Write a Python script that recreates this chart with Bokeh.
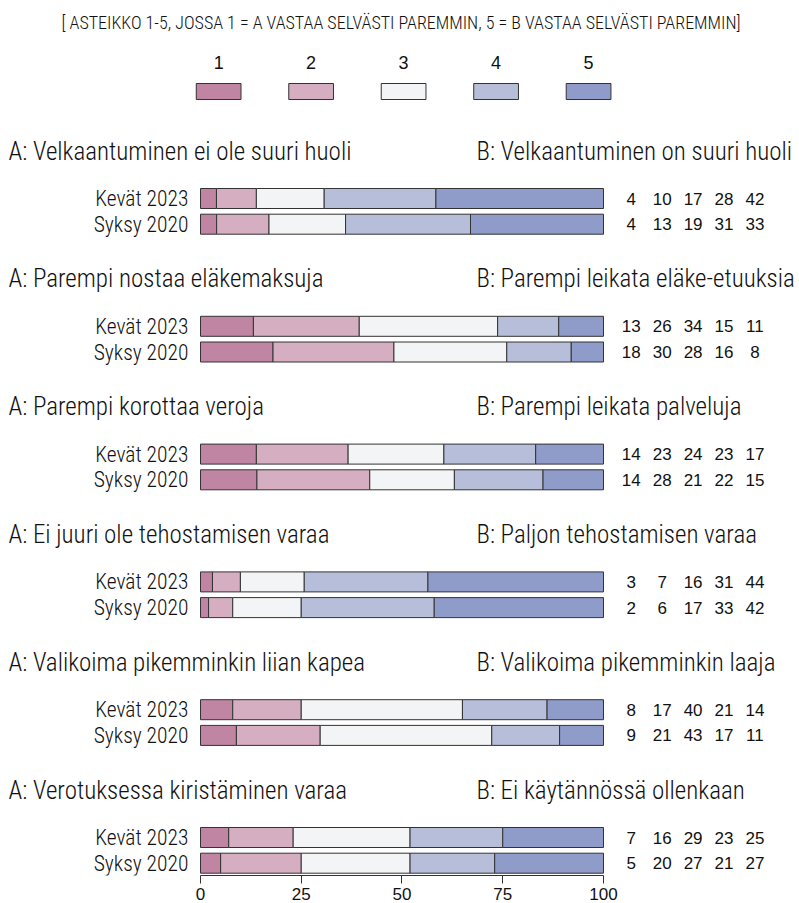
from bokeh.plotting import figure
from bokeh.models import Range1d, FixedTicker, ColumnDataSource
from bokeh.core.properties import value
from bokeh.embed import file_html
from bokeh.resources import INLINE

# ---------------- data ----------------
title_text = "[ ASTEIKKO 1-5, JOSSA 1 = A VASTAA SELVÄSTI PAREMMIN, 5 = B VASTAA SELVÄSTI PAREMMIN]"
scale_labels = ["1", "2", "3", "4", "5"]
colors = ["#BF85A2", "#D5AEC2", "#F3F4F6", "#B7BED9", "#8F9BC9"]
a_labels = [
    "A: Velkaantuminen ei ole suuri huoli",
    "A: Parempi nostaa eläkemaksuja",
    "A: Parempi korottaa veroja",
    "A: Ei juuri ole tehostamisen varaa",
    "A: Valikoima pikemminkin liian kapea",
    "A: Verotuksessa kiristäminen varaa",
]
b_labels = [
    "B: Velkaantuminen on suuri huoli",
    "B: Parempi leikata eläke-etuuksia",
    "B: Parempi leikata palveluja",
    "B: Paljon tehostamisen varaa",
    "B: Valikoima pikemminkin laaja",
    "B: Ei käytännössä ollenkaan",
]
periods = ["Kevät 2023", "Syksy 2020"]
kevat_2023 = [
    [4, 10, 17, 28, 42],
    [13, 26, 34, 15, 11],
    [14, 23, 24, 23, 17],
    [3, 7, 16, 31, 44],
    [8, 17, 40, 21, 14],
    [7, 16, 29, 23, 25],
]
syksy_2020 = [
    [4, 13, 19, 31, 33],
    [18, 30, 28, 16, 8],
    [14, 28, 21, 22, 15],
    [2, 6, 17, 33, 42],
    [9, 21, 43, 17, 11],
    [5, 20, 27, 21, 27],
]
x_ticks = [0, 25, 50, 75, 100]

# ---------------- layout ----------------
COND = "Roboto Condensed Light, Roboto Condensed"
ARIAL = "Liberation Sans"
TXT = "#111111"
X0, X1 = -49.63, 148.64
Y_TOP, Y_BOT = 0.0, 875.0

p = figure(width=799, height=903, x_range=Range1d(X0, X1), y_range=Range1d(Y_BOT, Y_TOP),
           output_backend="svg", toolbar_location=None, y_axis_location=None,
           min_border=0, min_border_bottom=28)
p.grid.visible = False
p.outline_line_color = None

# axis
ax = p.xaxis[0]
ax.ticker = FixedTicker(ticks=x_ticks)
ax.bounds = (0, 100)
ax.major_tick_in = 0
ax.major_tick_out = 8
ax.minor_tick_in = 0
ax.minor_tick_out = 0
ax.axis_line_color = "#333333"
ax.major_tick_line_color = "#333333"
ax.major_label_text_font = ARIAL
ax.major_label_text_font_size = "17px"
ax.major_label_text_color = TXT
ax.major_label_standoff = 4

# title
p.text(x=[49.75], y=[22], text=[title_text], text_font=value(COND), text_font_size="18px",
       text_align="center", text_baseline="middle", text_color=TXT)

# legend
leg_x = [4.5 + 22.95 * i for i in range(len(scale_labels))]
p.text(x=leg_x, y=[62] * 5, text=scale_labels, text_font=value(ARIAL), text_font_size="18px",
       text_align="center", text_baseline="middle", text_color=TXT)
p.rect(x=leg_x, y=[91] * 5, width=11.1, height=16, fill_color=colors,
       line_color="#333333", line_width=1)

# bars
bar = dict(y=[], left=[], right=[], color=[])
num = dict(x=[], y=[], text=[])
lab = dict(y=[], text=[])
hdr_y = []
for i in range(len(a_labels)):
    yk = 198 + 127.8 * i
    ys = yk + 25.7
    hdr_y.append(yk - 47.5)
    for yy, vals, per in ((yk, kevat_2023[i], periods[0]), (ys, syksy_2020[i], periods[1])):
        tot = float(sum(vals))
        cum = 0.0
        for j, v in enumerate(vals):
            share = v / tot * 100
            bar["y"].append(yy)
            bar["left"].append(cum)
            bar["right"].append(cum + share)
            bar["color"].append(colors[j])
            cum += share
            num["x"].append(106.9 + 7.67 * j)
            num["y"].append(yy)
            num["text"].append(str(v))
        lab["y"].append(yy)
        lab["text"].append(per)

p.hbar(y="y", left="left", right="right", height=20, fill_color="color", line_color="#333333",
       line_width=1, source=ColumnDataSource(bar))
p.text(x="x", y="y", text="text", source=ColumnDataSource(num), text_font=value(ARIAL),
       text_font_size="17px", text_align="center", text_baseline="middle", text_color=TXT)
p.text(x=[-3.0] * len(lab["y"]), y=lab["y"], text=lab["text"], text_font=value(COND),
       text_font_size="21.5px", text_align="right", text_baseline="middle", text_color=TXT)
p.text(x=[-47.64] * len(a_labels), y=hdr_y, text=a_labels, text_font=value(COND),
       text_font_size="25px", text_align="left", text_baseline="middle", text_color=TXT)
p.text(x=[68.5] * len(b_labels), y=hdr_y, text=b_labels, text_font=value(COND),
       text_font_size="25px", text_align="left", text_baseline="middle", text_color=TXT)

open("out.html", "w").write(file_html(p, INLINE))
